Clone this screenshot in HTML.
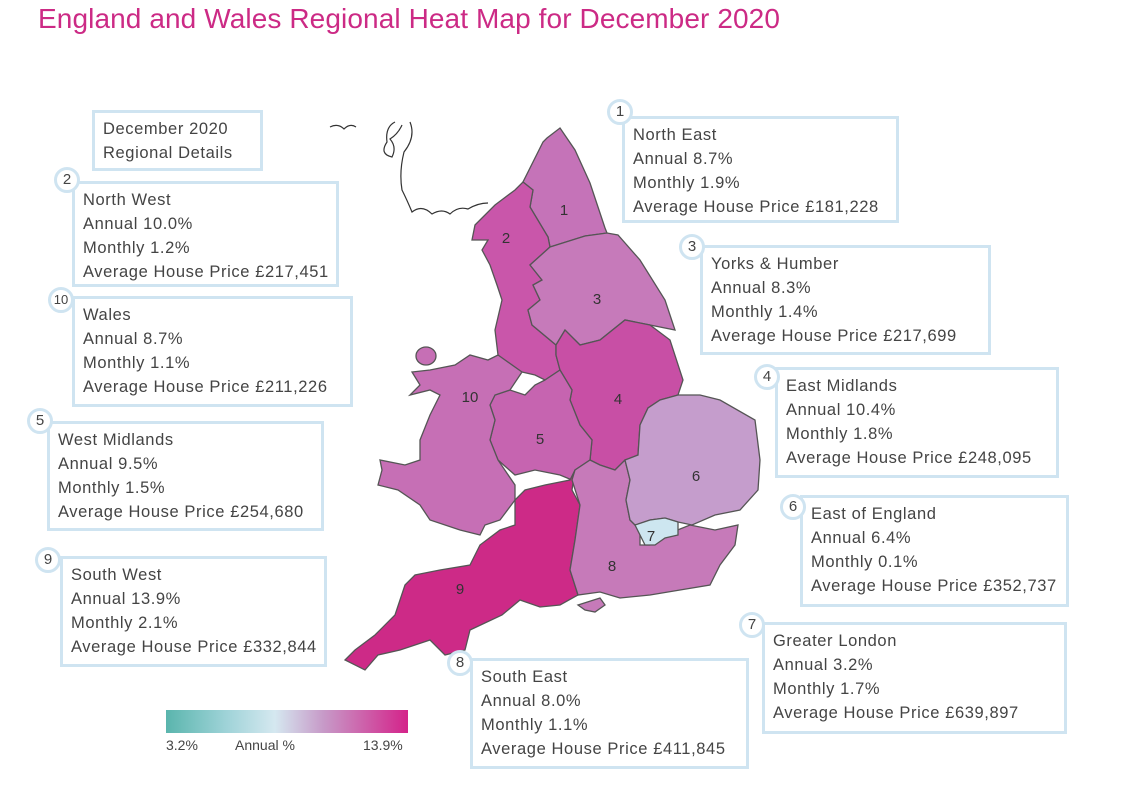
<!DOCTYPE html>
<html><head><meta charset="utf-8"><style>
body{margin:0;background:#fff;width:1129px;height:800px;position:relative;overflow:hidden;font-family:"Liberation Sans",sans-serif;}
.t{position:absolute;left:38px;top:3px;font-size:28px;letter-spacing:0.1px;color:#cc2a85;}
.b{position:absolute;border:3px solid #cfe4f1;box-sizing:border-box;padding:4px 0 0 8px;font-size:16.5px;letter-spacing:0.6px;line-height:24px;color:#444;background:#fff;white-space:nowrap;}
.c{position:absolute;width:26px;height:26px;border:3px solid #cfe4f1;border-radius:50%;background:#fff;box-sizing:border-box;font-size:15px;line-height:20px;text-align:center;color:#444;}
.lg{position:absolute;left:166px;top:710px;width:242px;height:23px;background:linear-gradient(90deg,#5ab5ad,#9fd3d8 25%,#d5e8f0 45%,#c79ac8 65%,#d4238a);}
.ll{position:absolute;top:737px;font-size:14px;color:#444;}
</style></head><body>
<div class="t">England and Wales Regional Heat Map for December 2020</div>
<svg width="1129" height="800" style="position:absolute;left:0;top:0">
<g fill="none" stroke="#333" stroke-width="1.2">
<path d="M330,127 q8,-4 14,2 q6,-6 12,-2 M395,122 q-10,5 -8,20 q-8,12 5,15 q5,-10 -2,-18 q8,-5 12,-14 M410,122 q6,15 -6,30 q-5,20 -2,38 q5,10 10,22 q10,-8 20,2 q10,-6 18,0 q8,-8 18,-5 q10,-6 20,-6"/>
</g>
<g stroke="#555" stroke-width="1.3">
<polygon fill="#c573b8" points="560,128 575,150 590,183 605,228 607,233 585,236 550,247 548,237 530,207 533,190 523,182 543,142 547,138"/>
<polygon fill="#c956aa" points="523,182 533,190 530,207 548,237 550,247 530,265 542,280 533,285 540,300 528,310 532,325 556,345 556,355 560,370 545,380 535,375 522,372 510,370 498,355 495,330 502,300 497,285 490,265 482,250 488,240 472,240 475,225 495,205 515,190"/>
<polygon fill="#c67aba" points="550,247 585,236 607,233 618,235 640,260 665,300 675,330 650,325 625,320 600,340 580,345 565,330 556,345 532,325 528,310 540,300 533,285 542,280 530,265"/>
<polygon fill="#c84fa5" points="556,345 565,330 580,345 600,340 625,320 650,325 670,340 683,380 678,395 660,400 648,408 640,425 638,455 625,460 615,470 600,465 590,460 592,440 580,425 570,400 572,390 560,370 556,355"/>
<polygon fill="#c664b0" points="545,380 560,370 572,390 570,400 580,425 592,440 590,460 575,470 572,480 560,475 535,470 515,475 498,460 490,440 495,420 490,405 495,395 510,390 525,395 535,385"/>
<polygon fill="#c66fb5" points="522,372 498,355 488,360 470,355 455,365 430,370 412,372 420,385 410,395 430,390 440,395 430,415 420,440 420,460 405,465 380,460 382,470 378,485 398,490 420,505 430,520 460,530 480,535 485,525 500,520 515,500 515,485 498,460 490,440 495,420 490,405 495,395 510,390"/>
<ellipse fill="#c66fb5" cx="426" cy="356" rx="10" ry="9"/>
<polygon fill="#cd2a87" points="515,500 525,490 545,485 570,480 575,470 572,490 580,505 575,540 570,570 578,595 560,605 540,607 520,600 502,615 470,630 465,650 445,655 430,640 400,650 378,655 365,670 345,660 355,650 375,635 395,615 405,585 415,575 440,570 470,565 480,545 500,530 515,525"/>
<polygon fill="#c67ab9" points="572,480 575,470 590,460 600,465 615,470 625,460 630,480 626,500 630,520 640,530 640,545 650,545 665,535 690,525 715,530 738,525 735,545 720,565 710,585 680,590 650,595 620,598 600,592 578,595 570,570 575,540 580,505"/>
<polygon fill="#c67ab9" points="578,605 600,598 605,605 595,612 585,610"/>
<polygon fill="#c59dcc" points="638,455 640,425 648,408 660,400 678,395 700,395 720,400 755,420 760,460 758,490 740,510 715,515 692,525 678,522 665,518 650,520 635,525 630,520 626,500 630,480 625,460"/>
<polygon fill="#cde6f0" points="635,525 650,520 665,518 678,522 678,535 665,538 655,545 645,545 640,535"/>
</g>
<g font-family="Liberation Sans,sans-serif" font-size="15" fill="#333" text-anchor="middle">
<text x="564" y="215">1</text><text x="506" y="243">2</text><text x="597" y="304">3</text><text x="618" y="404">4</text><text x="540" y="444">5</text><text x="696" y="481">6</text><text x="651" y="541">7</text><text x="612" y="571">8</text><text x="460" y="594">9</text><text x="470" y="402">10</text>
</g>
</svg>
<div class="b" style="left:92px;top:110px;width:171px;height:61px;">December 2020<br>Regional Details</div>
<div class="b" style="left:72px;top:181px;width:267px;height:106px;">North West<br>Annual 10.0%<br>Monthly 1.2%<br>Average House Price £217,451</div>
<div class="b" style="left:72px;top:296px;width:281px;height:111px;">Wales<br>Annual 8.7%<br>Monthly 1.1%<br>Average House Price £211,226</div>
<div class="b" style="left:47px;top:421px;width:277px;height:110px;">West Midlands<br>Annual 9.5%<br>Monthly 1.5%<br>Average House Price £254,680</div>
<div class="b" style="left:60px;top:556px;width:267px;height:111px;">South West<br>Annual 13.9%<br>Monthly 2.1%<br>Average House Price £332,844</div>
<div class="b" style="left:622px;top:116px;width:277px;height:107px;">North East<br>Annual 8.7%<br>Monthly 1.9%<br>Average House Price £181,228</div>
<div class="b" style="left:700px;top:245px;width:291px;height:110px;">Yorks &amp; Humber<br>Annual 8.3%<br>Monthly 1.4%<br>Average House Price £217,699</div>
<div class="b" style="left:775px;top:367px;width:284px;height:111px;">East Midlands<br>Annual 10.4%<br>Monthly 1.8%<br>Average House Price £248,095</div>
<div class="b" style="left:800px;top:495px;width:269px;height:112px;">East of England<br>Annual 6.4%<br>Monthly 0.1%<br>Average House Price £352,737</div>
<div class="b" style="left:762px;top:622px;width:305px;height:112px;">Greater London<br>Annual 3.2%<br>Monthly 1.7%<br>Average House Price £639,897</div>
<div class="b" style="left:470px;top:658px;width:279px;height:111px;">South East<br>Annual 8.0%<br>Monthly 1.1%<br>Average House Price £411,845</div>
<div class="c" style="left:54px;top:167px;">2</div>
<div class="c" style="left:48px;top:287px;font-size:13px;">10</div>
<div class="c" style="left:27px;top:408px;">5</div>
<div class="c" style="left:35px;top:547px;">9</div>
<div class="c" style="left:607px;top:99px;">1</div>
<div class="c" style="left:679px;top:234px;">3</div>
<div class="c" style="left:754px;top:364px;">4</div>
<div class="c" style="left:780px;top:494px;">6</div>
<div class="c" style="left:739px;top:612px;">7</div>
<div class="c" style="left:447px;top:650px;">8</div>
<div class="lg"></div>
<div class="ll" style="left:166px;">3.2%</div>
<div class="ll" style="left:235px;">Annual %</div>
<div class="ll" style="left:363px;">13.9%</div>
</body></html>
